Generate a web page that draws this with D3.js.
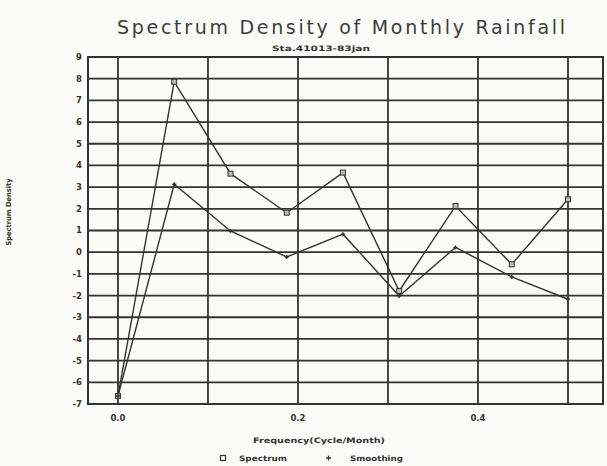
<!DOCTYPE html>
<html><head><meta charset="utf-8">
<script src="https://cdn.jsdelivr.net/npm/d3@7"></script>
<style>body{margin:0;background:#fbfbf9;} svg{display:block;}</style>
</head><body><svg id="c" width="607" height="466"></svg>
<script>
const frequency = [0, 0.0625, 0.125, 0.1875, 0.25, 0.3125, 0.375, 0.4375, 0.5];
const spectrum  = [-6.63, 7.86, 3.62, 1.82, 3.67, -1.79, 2.13, -0.56, 2.44];
const smoothing = [-6.63, 3.13, 0.98, -0.22, 0.83, -2.02, 0.22, -1.14, -2.17];
const yTicks = d3.range(-7, 10);
const xGrid = [0, 0.1, 0.2, 0.3, 0.4, 0.5];
const xLabels = [0, 0.2, 0.4];

const ink = "#333";
const svg = d3.select("#c");
const x = d3.scaleLinear().domain([-0.0333, 0.5389]).range([88, 603]);
const y = d3.scaleLinear().domain([-7, 9]).range([404, 57]);
const font = "'DejaVu Sans', sans-serif";

// grid
svg.append("g").selectAll("line").data(yTicks).join("line")
  .attr("x1", x.range()[0]).attr("x2", x.range()[1])
  .attr("y1", d => y(d)).attr("y2", d => y(d))
  .attr("stroke", ink).attr("stroke-width", 1.8);
svg.append("g").selectAll("line").data(xGrid).join("line")
  .attr("x1", d => x(d)).attr("x2", d => x(d))
  .attr("y1", y.range()[0]).attr("y2", y.range()[1])
  .attr("stroke", ink).attr("stroke-width", 1.8);
svg.append("rect").attr("x", 88).attr("y", 57).attr("width", 603 - 88).attr("height", 404 - 57)
  .attr("fill", "none").attr("stroke", ink).attr("stroke-width", 2);

// y tick labels
svg.append("g").selectAll("text").data(yTicks).join("text")
  .attr("x", 82).attr("y", d => y(d)).attr("dy", "0.35em")
  .attr("text-anchor", "end").attr("font-family", font).attr("font-weight", "bold")
  .attr("font-size", 8.5).attr("fill", ink).text(d => d);
// x tick labels
svg.append("g").selectAll("text").data(xLabels).join("text")
  .attr("x", d => x(d)).attr("y", 421)
  .attr("text-anchor", "middle").attr("font-family", font).attr("font-weight", "bold")
  .attr("font-size", 8.5).attr("fill", ink).text(d => d3.format(".1f")(d));

// lines
const line = d3.line().x((d, i) => x(frequency[i])).y(d => y(d));
svg.append("path").datum(spectrum).attr("d", line).attr("fill", "none")
  .attr("stroke", ink).attr("stroke-width", 1.4);
svg.append("path").datum(smoothing).attr("d", line).attr("fill", "none")
  .attr("stroke", ink).attr("stroke-width", 1.4);

// markers
svg.append("g").selectAll("rect").data(spectrum).join("rect")
  .attr("x", (d, i) => x(frequency[i]) - 2.5).attr("y", d => y(d) - 2.5)
  .attr("width", 5).attr("height", 5).attr("fill", "#bbb").attr("stroke", ink).attr("stroke-width", 1);
svg.append("g").selectAll("path").data(smoothing).join("path")
  .attr("d", (d, i) => { const cx = x(frequency[i]), cy = y(d); return `M${cx-2},${cy}H${cx+2}M${cx},${cy-2}V${cy+2}`; })
  .attr("stroke", ink).attr("stroke-width", 1.4);

// titles
svg.append("text").attr("x", 341).attr("y", 34).attr("text-anchor", "middle")
  .attr("font-family", font).attr("font-size", 19).attr("fill", "#3d3d3d")
  .attr("textLength", 448).attr("lengthAdjust", "spacing")
  .text("Spectrum Density of Monthly Rainfall");
svg.append("text").attr("x", 321).attr("y", 51).attr("text-anchor", "middle")
  .attr("font-family", font).attr("font-weight", "bold").attr("font-size", 7.5).attr("fill", ink)
  .attr("textLength", 98).attr("lengthAdjust", "spacingAndGlyphs")
  .text("Sta.41013-83jan");
svg.append("text").attr("transform", "translate(11,212) rotate(-90)").attr("text-anchor", "middle")
  .attr("font-family", font).attr("font-weight", "bold").attr("font-size", 7).attr("fill", ink)
  .attr("textLength", 67).attr("lengthAdjust", "spacingAndGlyphs")
  .text("Spectrum Density");
svg.append("text").attr("x", 319).attr("y", 443).attr("text-anchor", "middle")
  .attr("font-family", font).attr("font-weight", "bold").attr("font-size", 7.5).attr("fill", ink)
  .attr("textLength", 132).attr("lengthAdjust", "spacingAndGlyphs")
  .text("Frequency(Cycle/Month)");

// legend
const legend = svg.append("g");
legend.append("rect").attr("x", 220.5).attr("y", 455.5).attr("width", 5).attr("height", 5)
  .attr("fill", "none").attr("stroke", ink).attr("stroke-width", 1.2);
legend.append("text").attr("x", 239).attr("y", 461).attr("font-family", font).attr("font-weight", "bold")
  .attr("font-size", 7.5).attr("fill", ink).attr("textLength", 48).attr("lengthAdjust", "spacingAndGlyphs").text("Spectrum");
legend.append("path").attr("d", "M326,458H331M328.5,455.5V460.5").attr("stroke", ink).attr("stroke-width", 1.3);
legend.append("text").attr("x", 350).attr("y", 461).attr("font-family", font).attr("font-weight", "bold")
  .attr("font-size", 7.5).attr("fill", ink).attr("textLength", 53).attr("lengthAdjust", "spacingAndGlyphs").text("Smoothing");
</script></body></html>
